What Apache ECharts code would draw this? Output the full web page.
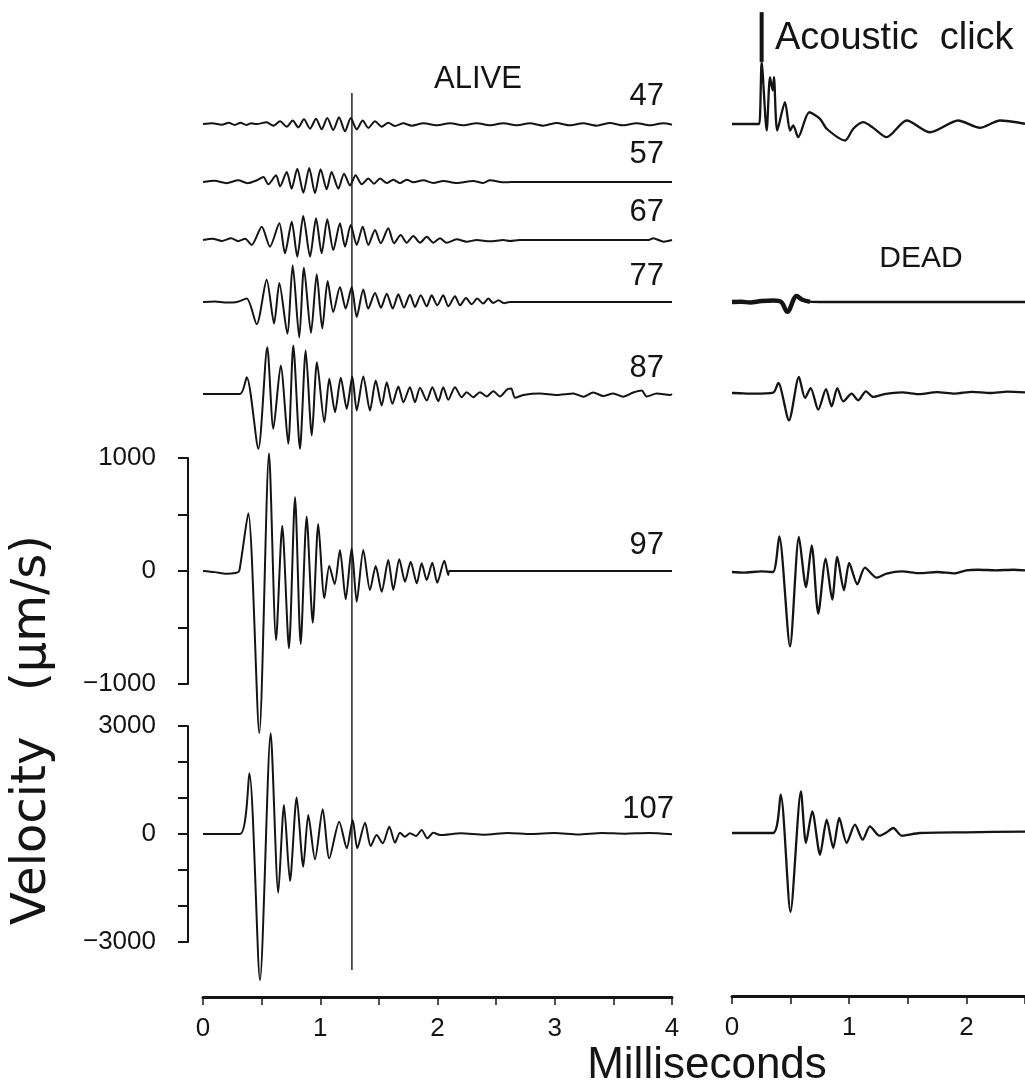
<!DOCTYPE html>
<html>
<head>
<meta charset="utf-8">
<script src="https://cdn.jsdelivr.net/npm/echarts@6.0.0/dist/echarts.min.js"></script>
<style>
  html, body { margin: 0; padding: 0; background: #ffffff; }
  #chart { width: 1025px; height: 1086px; }
</style>
</head>
<body>
<div id="chart"></div>
<script>
// Basilar-membrane velocity responses to clicks; time in ms, velocity in µm/s.
// Each trace is a list of [time, velocity] pairs.

const alive47 = [[0,0],[0.08,6],[0.16,-6],[0.22,10],[0.27,-8],[0.32,10],[0.37,-8],[0.41,6],
  [0.458,0],[0.543,15],[0.600,-15],[0.657,24],[0.714,-24],[0.765,30],[0.813,-30],[0.861,41],[0.913,-41],
  [0.964,47],[1.012,-47],[1.060,53],[1.111,-53],[1.160,59],[1.211,-65],[1.260,53],[1.311,-47],[1.362,30],
  [1.410,-35],[1.467,24],[1.524,-24],[1.580,12],[1.638,-18],[1.709,6],[1.780,-15],[1.879,6],[1.993,-12],
  [2.107,6],[2.220,-12],[2.334,6],[2.448,-12],[2.561,6],[2.675,-12],[2.789,6],[2.902,-15],[3.017,9],
  [3.130,-12],[3.243,6],[3.358,-15],[3.471,9],[3.585,-12],[3.699,6],[3.812,-12],[3.926,6],[4.0,-6]];

const alive57 = [[0,0],[0.10,10],[0.20,-10],[0.30,15],[0.38,-10],[0.458,15],[0.515,44],[0.557,-21],
  [0.623,59],[0.657,-38],[0.714,89],[0.756,-59],[0.804,118],[0.856,-95],[0.906,124],[0.955,-100],
  [1.003,112],[1.055,-65],[1.097,89],[1.154,-59],[1.203,74],[1.254,-30],[1.302,59],[1.354,-21],[1.410,30],
  [1.459,-15],[1.510,30],[1.567,-9],[1.623,21],[1.680,-9],[1.737,21],[1.794,-3],[1.879,15],[1.964,-9],
  [2.049,9],[2.163,-9],[2.305,9],[2.390,-9],[2.447,15],[2.561,-3],[2.632,0],[4.0,0]];

const alive67 = [[0,0],[0.08,12],[0.16,-8],[0.24,15],[0.30,-10],[0.36,10],[0.415,-44],[0.501,118],
  [0.571,-59],[0.651,148],[0.699,-118],[0.757,162],[0.804,-148],[0.855,212],[0.913,-148],[0.964,192],
  [1.012,-118],[1.060,183],[1.111,-89],[1.168,148],[1.211,-59],[1.260,133],[1.311,-44],[1.362,118],
  [1.410,-44],[1.467,89],[1.516,-29],[1.580,104],[1.629,-29],[1.686,44],[1.737,-24],[1.794,35],
  [1.851,-24],[1.908,29],[1.964,-24],[2.021,15],[2.078,-24],[2.164,6],[2.249,-15],[2.334,0],[2.448,-12],
  [2.561,0],[2.618,-9],[2.70,0],[3.80,0],[3.84,15],[3.93,-15],[4.0,0]];

const alive77 = [[0,0],[0.10,5],[0.20,-5],[0.29,0],[0.373,30],[0.458,-197],[0.543,198],[0.606,-191],
  [0.651,168],[0.719,-280],[0.765,325],[0.821,-315],[0.861,304],[0.921,-274],[0.970,245],[1.017,-235],
  [1.063,186],[1.111,-89],[1.168,133],[1.217,-58],[1.268,133],[1.311,-133],[1.367,110],[1.409,-58],
  [1.467,80],[1.518,-50],[1.567,74],[1.618,-58],[1.666,68],[1.714,-50],[1.765,65],[1.808,-44],[1.857,59],
  [1.908,-38],[1.950,59],[1.998,-29],[2.049,59],[2.092,-38],[2.149,50],[2.192,-29],[2.243,35],[2.292,-20],
  [2.339,30],[2.390,-14],[2.433,30],[2.476,-9],[2.519,15],[2.567,-10],[2.618,0],[4.0,0]];

const alive87 = [[0,0],[0.316,0],[0.373,149],[0.472,-485],[0.548,414],[0.600,-308],[0.663,252],
  [0.727,-441],[0.770,429],[0.827,-485],[0.876,385],[0.928,-367],[0.972,281],[1.035,-250],[1.077,135],
  [1.126,-161],[1.175,143],[1.226,-131],[1.273,155],[1.311,-146],[1.367,155],[1.424,-146],[1.473,119],
  [1.524,-102],[1.567,104],[1.615,-87],[1.666,66],[1.709,-73],[1.765,60],[1.808,-73],[1.851,55],
  [1.908,-58],[1.956,60],[2.007,-64],[2.049,60],[2.092,-51],[2.149,60],[2.206,-28],[2.249,16],[2.305,-28],
  [2.362,16],[2.420,-22],[2.476,25],[2.533,-22],[2.600,46],[2.629,49],[2.661,-34],[2.732,-9],[2.874,4],
  [3.017,-9],[3.159,4],[3.244,-24],[3.329,13],[3.414,-18],[3.499,4],[3.584,-24],[3.670,13],[3.741,31],
  [3.784,-22],[3.870,4],[3.983,-9],[4.0,0]];

const alive97 = [[0,0],[0.10,-10],[0.20,-25],[0.287,-15],[0.31,3],[0.386,511],[0.48,-1434],[0.563,1042],
  [0.623,-611],[0.676,398],[0.733,-684],[0.785,652],[0.833,-646],[0.884,481],[0.936,-457],[0.983,416],
  [1.035,-242],[1.077,44],[1.123,-115],[1.168,186],[1.217,-250],[1.268,201],[1.311,-272],[1.367,186],
  [1.424,-168],[1.473,44],[1.524,-183],[1.580,97],[1.623,-168],[1.674,104],[1.723,-95],[1.771,82],
  [1.823,-109],[1.865,68],[1.908,-80],[1.956,73],[1.998,-104],[2.058,91],[2.092,-35],[2.10,0],[4.0,0]];

const alive107 = [[0,0],[0.316,0],[0.395,1687],[0.486,-4059],[0.577,2799],[0.642,-1632],[0.691,806],
  [0.742,-1307],[0.799,1020],[0.855,-909],[0.898,528],[0.955,-703],[1.021,687],[1.077,-676],[1.162,342],
  [1.226,-398],[1.277,389],[1.316,-398],[1.382,314],[1.430,-334],[1.481,-28],[1.533,-259],[1.589,203],
  [1.638,-242],[1.680,36],[1.723,-75],[1.765,19],[1.817,-56],[1.865,111],[1.913,-120],[1.964,36],
  [2.021,-28],[2.2,20],[2.4,-20],[2.6,30],[2.8,0],[3.0,25],[3.2,-15],[3.4,30],[3.6,10],[3.8,25],[4.0,-10]];

// The acoustic click itself (arbitrary units on the same grid height).
const clickTrace = [[0,0],[0.205,0],[0.233,0],[0.253,547],[0.296,-58],[0.324,414],[0.347,296],[0.358,414],
  [0.386,-58],[0.452,193],[0.495,-58],[0.523,-13],[0.565,-117],[0.659,104],[0.751,46],[0.808,-42],
  [0.964,-146],[1.035,-42],[1.120,16],[1.205,-34],[1.319,-117],[1.490,31],[1.689,-73],[1.930,31],
  [2.115,-34],[2.286,31],[2.5,2]];
const clickMarker = [[0.253,550],[0.253,990]];

const dead77 = [[0,0],[0.08,2],[0.154,-4],[0.25,8],[0.352,13],[0.42,0],[0.472,-86],[0.552,53],
  [0.60,20],[0.665,3],[0.75,0],[1.2,0],[2.5,0]];

const dead87 = [[0,0],[0.011,0],[0.182,-6],[0.352,3],[0.395,89],[0.486,-242],[0.571,142],[0.623,-44],
  [0.671,44],[0.736,-148],[0.802,35],[0.850,-119],[0.898,44],[0.949,-74],[1.021,-6],[1.077,-65],
  [1.143,14],[1.205,-35],[1.3,-10],[1.45,5],[1.6,-10],[1.75,8],[1.9,-5],[2.05,10],[2.2,0],[2.35,12],[2.5,5]];

const dead97 = [[0,0],[0.10,-5],[0.25,5],[0.35,0],[0.403,316],[0.495,-658],[0.571,310],[0.631,-133],
  [0.680,236],[0.736,-368],[0.799,119],[0.855,-244],[0.898,133],[0.955,-162],[1.000,80],[1.069,-109],
  [1.134,39],[1.234,-50],[1.319,-14],[1.45,5],[1.6,-10],[1.75,0],[1.9,-12],[2.0,15],[2.1,20],[2.25,15],
  [2.4,20],[2.5,15]];

const dead107 = [[0,0],[0.35,0],[0.415,1065],[0.499,-2188],[0.588,1156],[0.631,-278],[0.685,600],
  [0.751,-603],[0.808,370],[0.864,-417],[0.915,417],[0.978,-278],[1.049,231],[1.115,-186],[1.177,183],
  [1.257,-75],[1.314,8],[1.376,139],[1.448,-75],[1.6,0],[2.0,20],[2.5,40]];

const levels = ['47', '57', '67', '77', '87', '97', '107'];
const msTicks = [0, 1, 2, 3, 4];
const scaleTicks97 = [-1000, 0, 1000];
const scaleTicks107 = [-3000, 0, 3000];
const clickTime = 1.27;   // time of the vertical reference line, ms

// ---------------------------------------------------------------------------
const INK = '#141414';
const FONT = '"Liberation Sans", Arial, sans-serif';
const WIDE = '"DejaVu Sans", sans-serif';

const panels = {
  alive: { left: 203, width: 469, max: 4, line: 2.0 },
  dead:  { left: 732, width: 293, max: 2.5, line: 2.3 }
};

// zero: pixel row of the trace baseline; range: half span of the y scale; half: half height in px
const traces = [
  { data: alive47, panel: 'alive', zero: 124, range: 1000, half: 113 },
  { data: alive57, panel: 'alive', zero: 182, range: 1000, half: 113 },
  { data: alive67, panel: 'alive', zero: 240, range: 1000, half: 113 },
  { data: alive77, panel: 'alive', zero: 302, range: 1000, half: 113 },
  { data: alive87, panel: 'alive', zero: 394, range: 1000, half: 113 },
  { data: alive97, panel: 'alive', zero: 571, range: 1000, half: 113, yAxis: scaleTicks97, yInterval: 500 },
  { data: alive107, panel: 'alive', zero: 834, range: 3000, half: 108, yAxis: scaleTicks107, yInterval: 1000, xAxis: true },
  { data: clickTrace, panel: 'dead', zero: 124, range: 1000, half: 113, marker: clickMarker },
  { data: dead77, panel: 'dead', zero: 302, range: 1000, half: 113, heavyHead: 0.67 },
  { data: dead87, panel: 'dead', zero: 393, range: 1000, half: 113 },
  { data: dead97, panel: 'dead', zero: 572, range: 1000, half: 113 },
  { data: dead107, panel: 'dead', zero: 833, range: 3000, half: 108, xAxis: true }
];

const grids = [], xAxes = [], yAxes = [], series = [];

function fmtSigned(v) { return String(v).replace('-', '\u2212'); }

traces.forEach((tr, i) => {
  const p = panels[tr.panel];
  grids.push({ left: p.left, width: p.width, top: tr.zero - tr.half, height: tr.half * 2,
               outerBoundsMode: 'none', containLabel: false });

  const xa = { gridIndex: i, type: 'value', min: 0, max: p.max, show: false };
  if (tr.xAxis) {
    Object.assign(xa, {
      show: true, position: 'bottom', offset: 55, interval: 0.5,
      axisLine: { show: true, onZero: false, lineStyle: { color: INK, width: 3 } },
      axisTick: { show: true, inside: false, length: 8, lineStyle: { color: INK, width: 1.5 } },
      axisLabel: { show: true, margin: 19, color: INK, fontSize: 26, fontFamily: FONT,
                   formatter: v => (msTicks.includes(v) ? String(v) : '') },
      splitLine: { show: false }
    });
  }
  xAxes.push(xa);

  const ya = { gridIndex: i, type: 'value', min: -tr.range, max: tr.range, show: false };
  if (tr.yAxis) {
    const ticks = tr.yAxis;
    Object.assign(ya, {
      show: true, position: 'left', offset: 15, interval: tr.yInterval,
      axisLine: { show: true, onZero: false, lineStyle: { color: INK, width: 2 } },
      axisTick: { show: true, inside: false, length: 10, lineStyle: { color: INK, width: 2 } },
      axisLabel: { show: true, margin: 32, color: INK, fontSize: 26, fontFamily: FONT,
                   formatter: v => (ticks.includes(v) ? fmtSigned(v) : '') },
      splitLine: { show: false }
    });
  }
  yAxes.push(ya);

  series.push({
    type: 'line', xAxisIndex: i, yAxisIndex: i, data: tr.data,
    symbol: 'none', clip: false, silent: true, smooth: 0.25,
    lineStyle: { color: INK, width: p.line }
  });
  if (tr.heavyHead) {
    series.push({
      type: 'line', xAxisIndex: i, yAxisIndex: i,
      data: tr.data.filter(d => d[0] <= tr.heavyHead),
      symbol: 'none', clip: false, silent: true, smooth: 0.35,
      lineStyle: { color: INK, width: 4.5 }
    });
  }
  if (tr.marker) {
    series.push({
      type: 'line', xAxisIndex: i, yAxisIndex: i, data: tr.marker,
      symbol: 'none', clip: false, silent: true,
      lineStyle: { color: INK, width: 4, cap: 'butt' }
    });
  }
});

// vertical reference line across the live traces
const mi = grids.length;
grids.push({ left: panels.alive.left, width: panels.alive.width, top: 93, height: 877, outerBoundsMode: 'none' });
xAxes.push({ gridIndex: mi, type: 'value', min: 0, max: panels.alive.max, show: false });
yAxes.push({ gridIndex: mi, type: 'value', min: 0, max: 1, show: false });
series.push({
  type: 'line', xAxisIndex: mi, yAxisIndex: mi, data: [[clickTime, 0], [clickTime, 1]],
  symbol: 'none', silent: true, lineStyle: { color: INK, width: 1.4 }
});

function label(text, x, y, size, align, family) {
  return {
    type: 'text', silent: true,
    style: { text, x, y, fill: INK, font: size + 'px ' + (family || FONT),
             textAlign: align, align: align, textVerticalAlign: 'middle', verticalAlign: 'middle' }
  };
}

const levelRows = [96, 154, 212, 276, 368, 545, 809];
const graphics = [
  label('ALIVE', 478, 79, 31, 'center'),
  label('DEAD', 921, 259, 30, 'center'),
  label('Acoustic  click', 775, 39, 38, 'left'),
  label('Milliseconds', 707, 1066, 44, 'center'),
  {
    type: 'text', silent: true, x: 33, y: 730, rotation: Math.PI / 2,
    style: { text: 'Velocity   (\u03bcm/s)', x: 0, y: 0, fill: INK, font: '48px ' + WIDE,
             textAlign: 'center', align: 'center', textVerticalAlign: 'middle', verticalAlign: 'middle' }
  }
];
levels.forEach((lv, k) => {
  graphics.push(label(lv, lv.length > 2 ? 674 : 664, levelRows[k], 31, 'right'));
});

const chart = echarts.init(document.getElementById('chart'), null, { renderer: 'canvas' });
chart.setOption({
  animation: false,
  backgroundColor: '#ffffff',
  grid: grids,
  xAxis: xAxes,
  yAxis: yAxes,
  series: series,
  graphic: graphics
});
</script>
</body>
</html>
